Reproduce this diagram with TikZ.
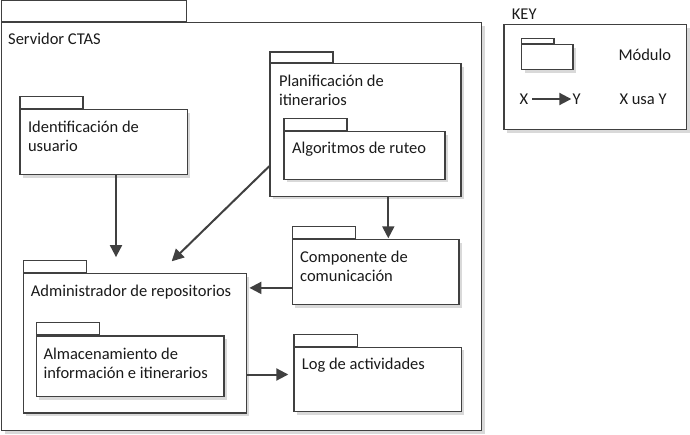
\documentclass[tikz,border=0pt]{standalone}
\usepackage{fontspec}
\setmainfont{Carlito}
\usetikzlibrary{arrows.meta, positioning, shadows}
\definecolor{linea}{RGB}{64,64,64}
\definecolor{sombra}{RGB}{217,217,217}
\definecolor{letra}{RGB}{26,26,26}

\begin{document}
\begin{tikzpicture}[x=1pt, y=-1pt,
        paquete/.style={rectangle, draw=linea, line width=1.2pt, fill=white,
                        anchor=north west, inner sep=0pt,
                        drop shadow={shadow xshift=3pt, shadow yshift=-3pt,
                                     fill=sombra, opacity=1}},
        pestana/.style={rectangle, draw=linea, line width=1.2pt, fill=white,
                        anchor=south west, inner sep=0pt,
                        minimum width=63pt, minimum height=12pt},
        texto/.style={anchor=base west, inner sep=0pt, align=left, text=letra,
                      font=\fontsize{16.5pt}{19pt}\selectfont},
        usa/.style={-{Triangle[length=12pt, width=12pt]}, line width=2pt, draw=linea},
    ]
        \useasboundingbox (0,0) rectangle (690,435);

        \node[paquete, minimum width=480pt, minimum height=408pt] (ctas) at (1,22) {};
        \node[pestana, minimum width=185pt, minimum height=21pt] (ctasP) at (ctas.north west) {};
        \node[texto] (ctasT) at ([shift={(7,23)}]ctas.north west) {Servidor CTAS};

        \node[paquete, minimum width=167.4pt, minimum height=65pt] (ident) at (19.3,109) {};
        \node[pestana] (identP) at (ident.north west) {};
        \node[texto] (identT) at ([shift={(8.5,43)}]ident.north west) {Identificación de\\usuario};

        \node[paquete, minimum width=191pt, minimum height=132.4pt] (plan) at (269.3,63.3) {};
        \node[pestana, minimum height=10.6pt] (planP) at (plan.north west) {};
        \node[texto] (planT) at ([shift={(9.5,42.2)}]plan.north west) {Planificación de\\itinerarios};

        \node[paquete, minimum width=161pt, minimum height=47.4pt] (ruteo) at (283.3,131.3) {};
        \node[pestana] (ruteoP) at (ruteo.north west) {};
        \node[texto] (ruteoT) at ([shift={(8.5,22.7)}]ruteo.north west) {Algoritmos de ruteo};

        \node[paquete, minimum width=166.6pt, minimum height=64.7pt] (comun) at (291.7,239.3) {};
        \node[pestana] (comunP) at (comun.north west) {};
        \node[texto] (comunT) at ([shift={(8.3,42.5)}]comun.north west) {Componente de\\comunicación};

        \node[paquete, minimum width=223pt, minimum height=139pt] (adm) at (22.7,273.3) {};
        \node[pestana] (admP) at (adm.north west) {};
        \node[texto] (admT) at ([shift={(8,23.7)}]adm.north west) {Administrador de repositorios};

        \node[paquete, minimum width=187.6pt, minimum height=60.7pt] (alm) at (35.7,335.3) {};
        \node[pestana] (almP) at (alm.north west) {};
        \node[texto] (almT) at ([shift={(7.6,43)}]alm.north west) {Almacenamiento de\\información e itinerarios};

        \node[paquete, minimum width=167.4pt, minimum height=64.3pt] (log) at (293.3,346.7) {};
        \node[pestana, minimum width=63.4pt] (logP) at (log.north west) {};
        \node[texto] (logT) at ([shift={(8.4,22.3)}]log.north west) {Log de actividades};

        \draw[usa, shorten >=3pt] ([xshift=96.7pt]ident.south west) -- ([xshift=96.7pt]ident.south west |- admP.north);
        \draw[usa] ([yshift=30.7pt]plan.south west) -- ([shift={(149,-12)}]adm.north west);
        \draw[usa, shorten >=1pt] ([xshift=119pt]plan.south west) -- ([xshift=119pt]plan.south west |- comun.north);
        \draw[usa, shorten >=2.5pt] ([yshift=17.3pt]comun.south west) -- ([yshift=17.3pt]comun.south west -| adm.east);
        \draw[usa, shorten >=5pt] ([yshift=39pt]adm.south east) -- ([yshift=39pt]adm.south east -| log.west);

        \node[texto] (keyT) at (511.7,19.3) {KEY};
        \node[paquete, minimum width=182.7pt, minimum height=105.3pt] (key) at (503.3,24) {};
        \node[paquete, minimum width=51.3pt, minimum height=25pt] (icono) at (521,44.3) {};
        \node[pestana, minimum width=32.3pt, minimum height=5.3pt] (iconoP) at (icono.north west) {};
        \node[texto] (modulo) at (618.3,61) {Módulo};
        \node[texto] (keyX) at (519.3,104.3) {X};
        \node[texto] (keyY) at (572.3,104.3) {Y};
        \node[texto] (usaT) at (619.3,104.3) {X usa Y};
        \draw[usa, shorten <=4pt, shorten >=1pt] (keyX) -- (keyY);

    \end{tikzpicture}
\end{document}
